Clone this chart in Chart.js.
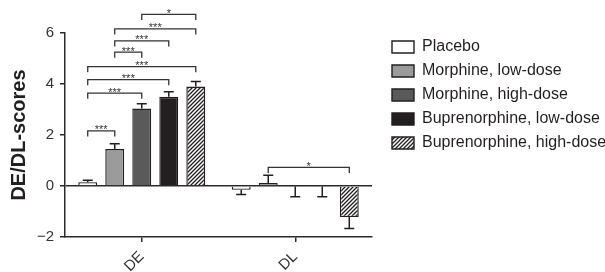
<!DOCTYPE html>
<html>
<head>
<meta charset="utf-8">
<script src="https://cdn.jsdelivr.net/npm/chart.js@4.4.1/dist/chart.umd.min.js"></script>
<style>
  html, body { margin: 0; padding: 0; background: #fff; }
  #wrap { width: 605px; height: 272px; }
</style>
</head>
<body>
<div id="wrap"><canvas id="chart" width="605" height="272"></canvas></div>
<script>
const categories = ['DE', 'DL']
const groups = ['Placebo', 'Morphine, low-dose', 'Morphine, high-dose', 'Buprenorphine, low-dose', 'Buprenorphine, high-dose']

// mean scores per category (DE, DL)
const placebo = [0.15, -0.15]
const morphineLow = [1.45, 0.12]
const morphineHigh = [3.04, -0.02]
const bupLow = [3.5, -0.02]
const bupHigh = [3.9, -1.22]

// SEM, drawn away from zero
const placeboErr = [0.08, 0.18]
const morphineLowErr = [0.21, 0.3]
const morphineHighErr = [0.19, 0.4]
const bupLowErr = [0.2, 0.4]
const bupHighErr = [0.2, 0.45]

const yTicks = [-2, 0, 2, 4, 6]

// significance brackets: [category, from group, to group, level, label]
const brackets = [
  [0, 0, 1, 2.16, '***'],
  [0, 0, 2, 3.64, '***'],
  [0, 0, 3, 4.17, '***'],
  [0, 0, 4, 4.68, '***'],
  [0, 1, 2, 5.25, '***'],
  [0, 1, 3, 5.69, '***'],
  [0, 1, 4, 6.16, '***'],
  [0, 2, 4, 6.73, '*'],
  [1, 1, 4, 0.73, '*']
]

const ink = '#231f20'
const axisInk = '#2b2b2b'
const FONT = "'Liberation Sans', Arial, Helvetica, sans-serif"

function hatch() {
  const s = 4
  const c = document.createElement('canvas')
  c.width = s; c.height = s
  const g = c.getContext('2d')
  g.fillStyle = '#fff'
  g.fillRect(0, 0, s, s)
  g.strokeStyle = ink
  g.lineWidth = 1.3
  g.beginPath()
  g.moveTo(-1, s + 1); g.lineTo(s + 1, -1)
  g.moveTo(-1, 1); g.lineTo(1, -1)
  g.moveTo(s - 1, s + 1); g.lineTo(s + 1, s - 1)
  g.stroke()
  return g.createPattern(c, 'repeat')
}

const values = [placebo, morphineLow, morphineHigh, bupLow, bupHigh]
const errs = [placeboErr, morphineLowErr, morphineHighErr, bupLowErr, bupHighErr]
const fills = ['#ffffff', '#9b9b9b', '#5a5a5a', ink, hatch()]

const datasets = groups.map((g, i) => ({
  label: g,
  data: values[i],
  errors: errs[i],
  backgroundColor: fills[i],
  borderColor: ink,
  borderWidth: 1.4,
  categoryPercentage: 0.88,
  barPercentage: 0.7
}))

// error bars + significance brackets
const extras = {
  id: 'extras',
  afterInit(chart) {
    const lg = chart.legend
    const fit = lg.fit
    lg.fit = function () { fit.call(this); this.width = 233 }
  },
  afterLayout(chart) {
    const lg = chart.legend
    lg.left += 12; lg.right += 12
    lg.top -= 2; lg.bottom -= 2
  },
  afterDatasetsDraw(chart) {
    const { ctx, scales: { y } } = chart
    ctx.save()
    ctx.strokeStyle = ink
    ctx.lineWidth = 1.5
    chart.data.datasets.forEach((ds, i) => {
      chart.getDatasetMeta(i).data.forEach((bar, j) => {
        const v = ds.data[j]
        const end = v >= 0 ? v + ds.errors[j] : v - ds.errors[j]
        const y0 = y.getPixelForValue(v)
        const y1 = y.getPixelForValue(end)
        ctx.beginPath()
        ctx.moveTo(bar.x, y0); ctx.lineTo(bar.x, y1)
        ctx.moveTo(bar.x - 5, y1); ctx.lineTo(bar.x + 5, y1)
        ctx.stroke()
      })
    })
    ctx.restore()
  },
  afterDraw(chart) {
    const { ctx, scales: { y } } = chart
    ctx.save()
    ctx.strokeStyle = '#333'
    ctx.fillStyle = '#333'
    ctx.lineWidth = 1.3
    ctx.font = '11px ' + FONT
    ctx.textAlign = 'center'
    ctx.textBaseline = 'alphabetic'
    for (const [cat, a, b, level, label] of brackets) {
      const xa = chart.getDatasetMeta(a).data[cat].x
      const xb = chart.getDatasetMeta(b).data[cat].x
      const yy = y.getPixelForValue(level)
      ctx.beginPath()
      ctx.moveTo(xa, yy + 5.5); ctx.lineTo(xa, yy); ctx.lineTo(xb, yy); ctx.lineTo(xb, yy + 5.5)
      ctx.stroke()
      ctx.fillText(label, (xa + xb) / 2, yy + 2.5)
    }
    ctx.restore()
  }
}

new Chart(document.getElementById('chart'), {
  type: 'bar',
  data: { labels: categories, datasets },
  plugins: [extras],
  options: {
    responsive: false,
    animation: false,
    layout: { padding: { top: 33, left: 0, right: 0, bottom: 0 } },
    plugins: {
      tooltip: { enabled: false },
      legend: {
        position: 'right',
        align: 'start',
        labels: {
          boxWidth: 22, boxHeight: 12, padding: 8,
          color: ink,
          font: { family: FONT, size: 16 }
        }
      }
    },
    scales: {
      x: {
        afterFit: s => { s.height = 35 },
        grid: { display: true, drawOnChartArea: false, offset: false, tickLength: 5, tickColor: axisInk, lineWidth: 1.5 },
        border: { display: true, color: axisInk, width: 1.5 },
        ticks: { color: '#333', font: { family: FONT, size: 15 }, minRotation: 45, maxRotation: 45, padding: 6 }
      },
      y: {
        min: -2, max: 6,
        afterFit: s => { s.width = 65 },
        afterBuildTicks: s => { s.ticks = yTicks.map(v => ({ value: v })) },
        grid: {
          drawOnChartArea: true, tickLength: 5, tickColor: axisInk, lineWidth: 1.5,
          color: c => (c.tick && c.tick.value === 0) ? axisInk : 'rgba(0,0,0,0)'
        },
        border: { display: true, color: axisInk, width: 1.5 },
        ticks: {
          color: '#333', padding: 6,
          font: { family: FONT, size: 15 },
          callback: v => v < 0 ? '\u2212' + Math.abs(v) : String(v)
        },
        title: {
          display: true, text: 'DE/DL-scores', color: ink,
          font: { family: FONT, size: 20, weight: 'bold' },
          padding: { top: 7, bottom: 0 }
        }
      }
    }
  }
})
</script>
</body>
</html>
